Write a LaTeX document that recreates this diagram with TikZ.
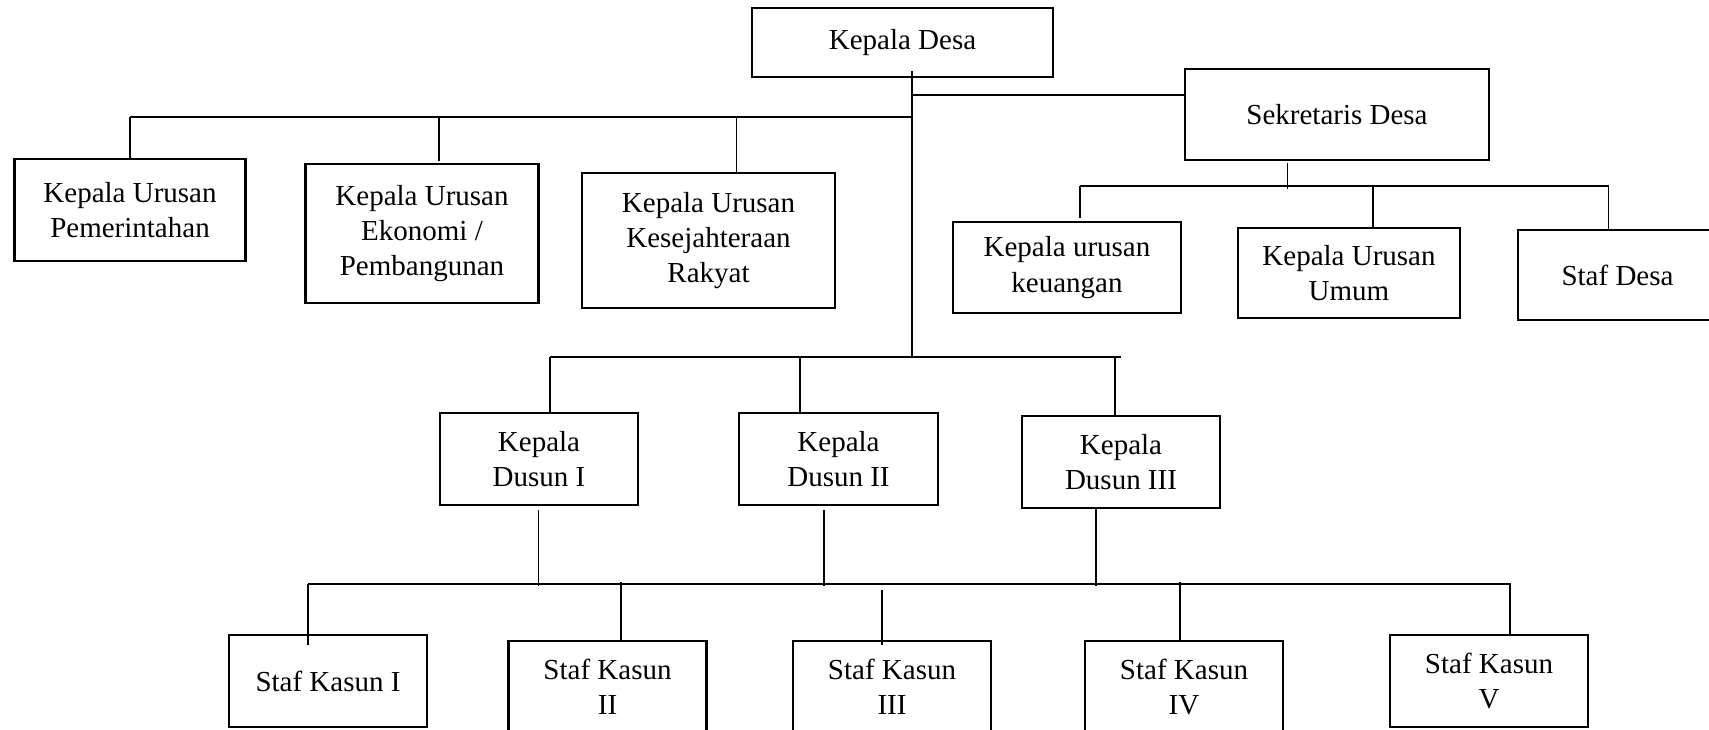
\documentclass[tikz,border=0pt]{standalone}
\usepackage{fontspec}
\setmainfont{Liberation Serif}
\usetikzlibrary{positioning,calc}

\tikzset{
  unit/.style={draw, line width=1.2pt, align=center, inner sep=0pt,
    font=\fontsize{14.5pt}{17.6pt}\selectfont},
  link/.style={line width=0.55pt}
}

\begin{document}
\begin{tikzpicture}[x=0.5pt, y=-0.5pt]
  \clip (0,0) rectangle (1709,729);
  \fill[white] (0,0) rectangle (1709,729);

  % top
  \node[unit, minimum width=150.5pt, minimum height=34.5pt] (kades) at (902.5,42.5) {Kepala Desa};
  \node[unit, minimum width=152pt, minimum height=45.5pt] (sekdes) at (1337,114.5) {Sekretaris Desa};

  % kepala urusan
  \node[unit, minimum width=115.5pt, minimum height=51pt] (pem) at (130,210) {Kepala Urusan\\Pemerintahan};
  \node[unit, minimum width=116.5pt, minimum height=69.5pt] (eko) at (422,233.5) {Kepala Urusan\\Ekonomi /\\Pembangunan};
  \node[unit, minimum width=126.5pt, minimum height=67.5pt] (kesra) at (708.5,240.5) {Kepala Urusan\\Kesejahteraan\\Rakyat};
  \node[unit, minimum width=114pt, minimum height=45.5pt] (keu) at (1067,267.5) {Kepala urusan\\keuangan};
  \node[unit, minimum width=111pt, minimum height=45pt] (umum) at (1349,273) {Kepala Urusan\\Umum};
  \node[unit, minimum width=99.5pt, minimum height=45pt] (staf) at (1617.5,275) {Staf Desa};

  % kepala dusun
  \node[unit, minimum width=99pt, minimum height=46pt] (dus1) at (539,459) {Kepala\\Dusun I};
  \node[unit, minimum width=99.5pt, minimum height=46pt] (dus2) at (838.5,459) {Kepala\\Dusun II};
  \node[unit, minimum width=99pt, minimum height=46pt] (dus3) at (1121,462) {Kepala\\Dusun III};

  % staf kasun
  \node[unit, minimum width=99pt, minimum height=46pt] (kas1) at (328,681) {Staf Kasun I};
  \node[unit, minimum width=99pt, minimum height=46pt] (kas2) at (607.5,687) {Staf Kasun\\II};
  \node[unit, minimum width=99pt, minimum height=46pt] (kas3) at (892,687) {Staf Kasun\\III};
  \node[unit, minimum width=99pt, minimum height=46pt] (kas4) at (1184,687) {Staf Kasun\\IV};
  \node[unit, minimum width=99pt, minimum height=46pt] (kas5) at (1489,681) {Staf Kasun\\V};

  % bars
  \coordinate (trunk) at (912,357);
  \coordinate (barL) at (130,117);
  \coordinate (barS) at (1080,186);
  \coordinate (barD) at (550,357);
  \coordinate (barK) at (308,584);

  \draw[link] ([yshift=3.5pt]kades.south -| trunk) -- (trunk);
  \draw[link] (trunk |- 0,95) -- (sekdes.west |- 0,95);
  \draw[link] (barL) -- (trunk |- barL);
  \draw[link] (barL) -- (pem.north);
  \draw[link] (439,117) -- (439,161);
  \draw[link] (736.5,117) -- (736.5,117 |- kesra.north);

  \draw[link] (1287.5,163) -- (1287.5,189);
  \draw[link] (barS) -- (1608.5,186) -- (1608.5,186 |- staf.north);
  \draw[link] (barS) -- (1080,218);
  \draw[link] (1373,186) -- (1373,186 |- umum.north);

  \draw[link] (barD) -- (1120.5,357);
  \draw[link] (barD) -- (barD |- dus1.north);
  \draw[link] (800,357) -- (800,357 |- dus2.north);
  \draw[link] (1115,357) -- (1115,357 |- dus3.north);

  \draw[link] (538.5,510) -- (538.5,586);
  \draw[link] (824,510) -- (824,586);
  \draw[link] (1096,508 |- dus3.south) -- (1096,586);

  \draw[link] (barK) -- (1510,584) -- (1510,584 |- kas5.north);
  \draw[link] (barK) -- (308,645);
  \draw[link] (621,582) -- (621,582 |- kas2.north);
  \draw[link] (882,590) -- (882,645);
  \draw[link] (1180,582) -- (1180,582 |- kas4.north);
\end{tikzpicture}
\end{document}
